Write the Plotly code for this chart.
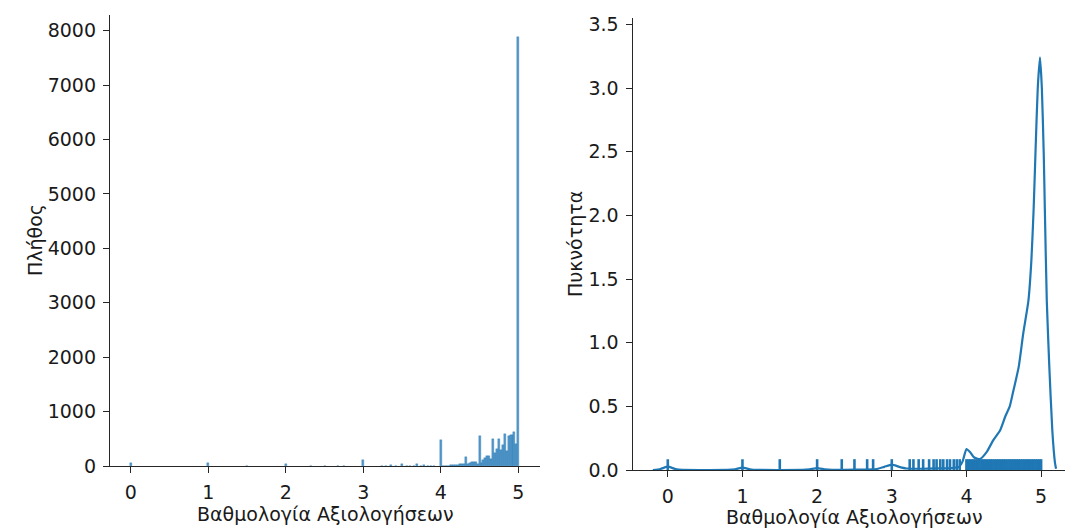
import plotly.graph_objects as go

# ---------------- data ----------------
hist_centers = [0.0, 1.0, 1.5, 2.0, 2.33, 2.5, 2.67, 2.75, 3.0,
                3.24, 3.29, 3.36, 3.42, 3.5, 3.56, 3.6, 3.65, 3.69, 3.74, 3.78, 3.83, 3.87, 3.91,
                4.0, 4.025, 4.05, 4.075, 4.1, 4.125, 4.15, 4.175, 4.2, 4.225, 4.25, 4.275,
                4.3, 4.325, 4.35, 4.375, 4.4, 4.425, 4.45, 4.475, 4.5, 4.525, 4.55, 4.575,
                4.6, 4.625, 4.65, 4.675, 4.7, 4.725, 4.75, 4.775, 4.8, 4.825, 4.85, 4.875,
                4.9, 4.925, 4.95, 4.975, 5.0]
hist_counts = [60, 55, 2, 40, 2, 8, 2, 3, 105,
               3, 2, 15, 3, 42, 4, 6, 5, 30, 4, 15, 5, 8, 4,
               480, 2, 3, 5, 8, 12, 20, 15, 25, 20, 45, 40,
               30, 170, 35, 60, 80, 75, 65, 40, 550, 60, 110, 150,
               185, 180, 120, 505, 240, 310, 490, 300, 380, 585, 275, 560,
               570, 575, 620, 400, 7880]
bin_width = 0.025

kde_x = [-0.2, -0.1, 0.0, 0.1, 0.2, 0.5, 0.8, 0.9, 1.0, 1.1, 1.2, 1.8, 1.9, 2.0, 2.1, 2.2,
         2.5, 2.8, 2.9, 3.0, 3.1, 3.2, 3.4, 3.6, 3.8, 3.9, 3.95, 4.0, 4.05, 4.1, 4.18,
         4.27, 4.36, 4.45, 4.52, 4.58, 4.62, 4.7, 4.76, 4.83, 4.87, 4.9, 4.925, 4.955,
         4.985, 5.01, 5.035, 5.05, 5.076, 5.11, 5.15, 5.185, 5.2]
kde_y = [0.0, 0.008, 0.026, 0.008, 0.001, 0.0, 0.001, 0.006, 0.018, 0.006, 0.001, 0.001, 0.005, 0.015, 0.006, 0.002,
         0.003, 0.008, 0.025, 0.042, 0.025, 0.012, 0.01, 0.012, 0.015, 0.025, 0.07, 0.165, 0.14, 0.1, 0.086,
         0.14, 0.235, 0.31, 0.42, 0.5, 0.6, 0.81, 1.07, 1.33, 1.65, 2.05, 2.5, 3.0,
         3.24, 3.0, 2.49, 2.05, 1.33, 0.81, 0.31, 0.06, 0.01]

rug_values = [c for c, n in zip(hist_centers, hist_counts) if n > 0]
rug_height = 0.085

x_ticks = [0, 1, 2, 3, 4, 5]
y1_ticks = [0, 1000, 2000, 3000, 4000, 5000, 6000, 7000, 8000]
y2_ticks = [0.0, 0.5, 1.0, 1.5, 2.0, 2.5, 3.0, 3.5]
x_title = "Βαθμολογία Αξιολογήσεων"
y1_title = "Πλήθος"
y2_title = "Πυκνότητα"

# ---------------- figure ----------------
W, H = 1065, 529
C0 = "#1f77b4"
FONT = "DejaVu Sans"
FS = 19
TXT = "#1a1a1a"

fig = go.Figure()

fig.add_trace(go.Bar(
    x=hist_centers, y=hist_counts, width=bin_width,
    marker=dict(color="rgba(31,119,180,0.75)", line=dict(color="rgba(31,119,180,0.9)", width=0.4)),
    xaxis="x", yaxis="y", showlegend=False,
))

fig.add_trace(go.Scatter(
    x=kde_x, y=kde_y, mode="lines", line=dict(color=C0, width=2.2, shape="spline", smoothing=0.5),
    xaxis="x2", yaxis="y2", showlegend=False,
))

rx, ry = [], []
for v in rug_values:
    rx += [v, v, None]
    ry += [0, rug_height, None]
fig.add_trace(go.Scatter(
    x=rx, y=ry, mode="lines", line=dict(color=C0, width=2.6),
    xaxis="x2", yaxis="y2", showlegend=False,
))

axis_common = dict(
    showline=True, linecolor="#262626", linewidth=1.4, ticks="outside", ticklen=6,
    tickwidth=1.4, tickcolor="#262626", showgrid=False, zeroline=False, automargin=False,
    tickfont=dict(family=FONT, size=FS, color=TXT), ticklabelstandoff=3,
)

fig.update_layout(
    template="none",
    width=W, height=H, margin=dict(l=0, r=0, t=0, b=0, autoexpand=False),
    paper_bgcolor="white", plot_bgcolor="white", bargap=0,
    font=dict(family=FONT, size=FS, color=TXT),
    xaxis=dict(domain=[110 / W, 540 / W], range=[-0.27, 5.28], tickvals=x_ticks, anchor="y", **axis_common),
    yaxis=dict(domain=[(H - 466) / H, (H - 15) / H], range=[0, 8290], tickvals=y1_ticks, anchor="x", **axis_common),
    xaxis2=dict(domain=[632.7 / W, 1.0], range=[-0.47, 5.32], tickvals=x_ticks, anchor="y2", **axis_common),
    yaxis2=dict(domain=[(H - 470) / H, (H - 18) / H], range=[0, 3.55], tickvals=y2_ticks,
                tickformat=".1f", anchor="x2", **axis_common),
    annotations=[
        dict(text=x_title, x=325 / W, y=(H - 514) / H, xref="paper", yref="paper",
             showarrow=False, xanchor="center", yanchor="middle", font=dict(family=FONT, size=FS, color=TXT)),
        dict(text=x_title, x=854 / W, y=(H - 517) / H, xref="paper", yref="paper",
             showarrow=False, xanchor="center", yanchor="middle", font=dict(family=FONT, size=FS, color=TXT)),
        dict(text=y1_title, x=35 / W, y=(H - 240) / H, xref="paper", yref="paper", textangle=-90,
             showarrow=False, xanchor="center", yanchor="middle", font=dict(family=FONT, size=FS, color=TXT)),
        dict(text=y2_title, x=575 / W, y=(H - 244) / H, xref="paper", yref="paper", textangle=-90,
             showarrow=False, xanchor="center", yanchor="middle", font=dict(family=FONT, size=FS, color=TXT)),
    ],
)

fig.write_html("out.html")
